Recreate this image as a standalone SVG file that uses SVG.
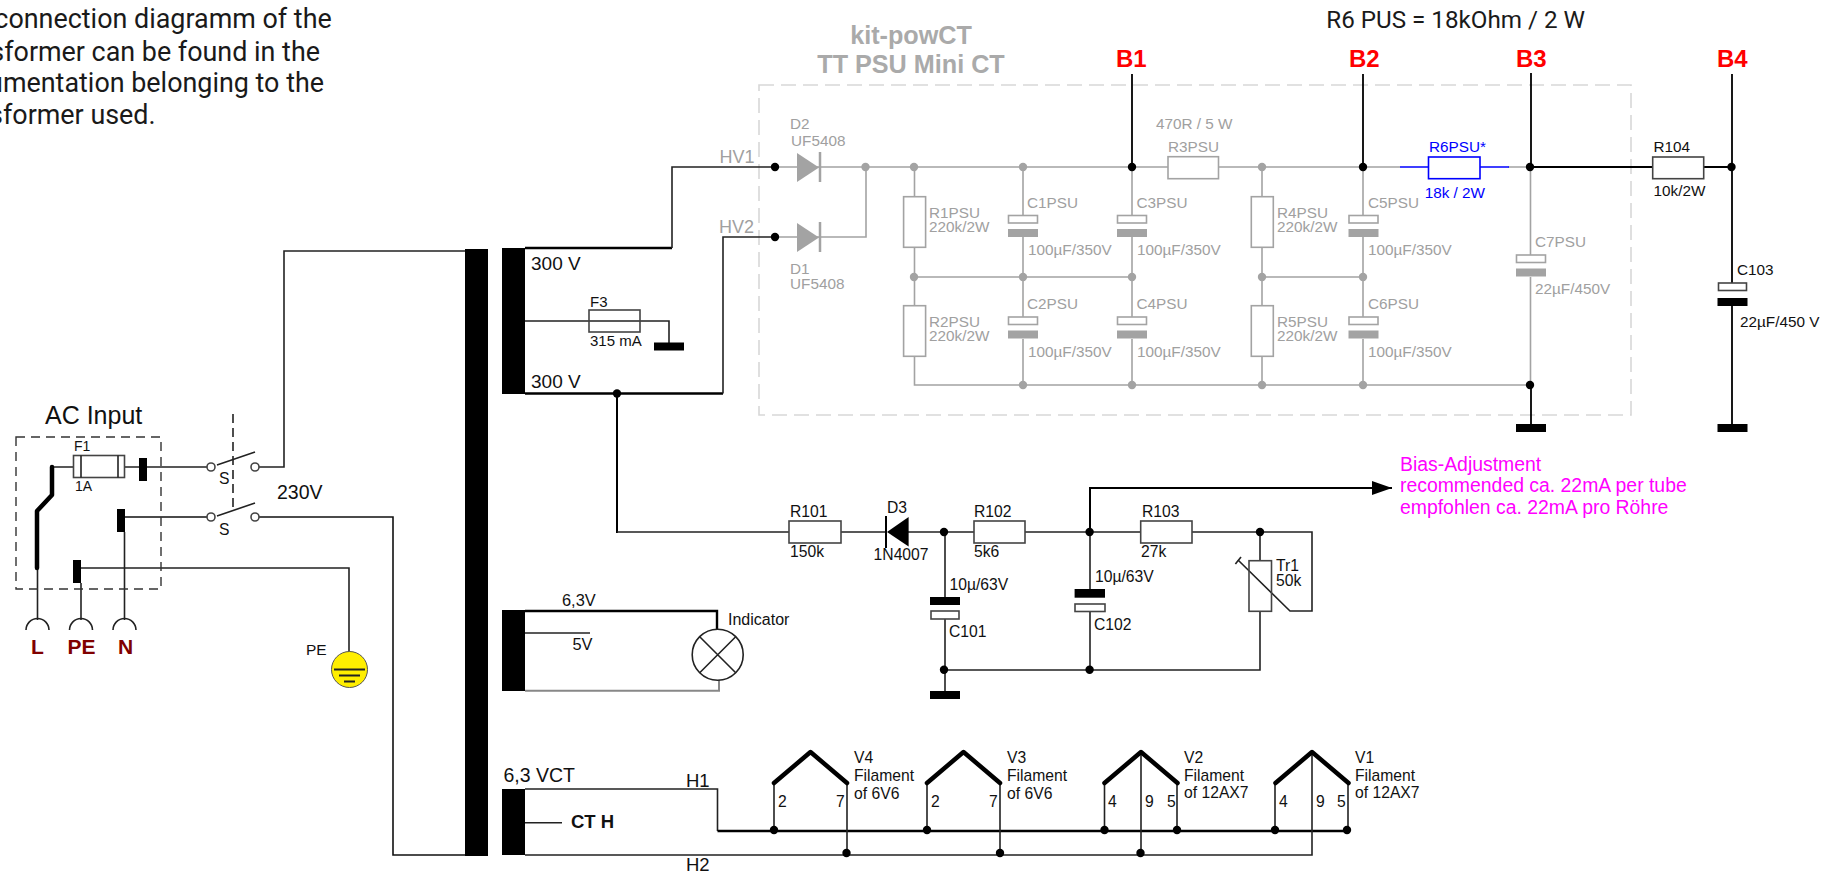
<svg xmlns="http://www.w3.org/2000/svg" width="1831" height="873" viewBox="0 0 1831 873">
<defs>
<style>
text{font-family:"Liberation Sans",Arial,sans-serif;font-size:15.3px;fill:#111}
.w{fill:none;stroke:#222;stroke-width:1.6}
.k{fill:none;stroke:#000;stroke-width:2.4}
.t{fill:none;stroke:#000;stroke-width:4.5;stroke-linecap:round;stroke-linejoin:round}
.g{fill:none;stroke:#a3a3a3;stroke-width:1.6}
.r{fill:#fff;stroke:#444;stroke-width:1.6}
.rg{fill:#fff;stroke:#a3a3a3;stroke-width:1.6}
.b{fill:#000}
.bg{fill:#a3a3a3}
.gt{fill:#a0a0a0}
.lab{font-size:15.7px}
.top{font-family:Roboto,sans-serif;font-size:26.9px;fill:#1a1a1a;text-anchor:end}
.bn{font-weight:bold;font-size:24px;fill:#ff0000}
.ac{font-weight:bold;font-size:21px;fill:#800000}
.m{font-size:19.4px;fill:#ff00ff}
.title{font-weight:bold;font-size:25.2px;fill:#aaaaaa;text-anchor:middle}
</style>
<circle id="dk" r="4.2" fill="#000"/>
<circle id="dg" r="4.2" fill="#a3a3a3"/>
<marker id="ah" markerUnits="userSpaceOnUse" markerWidth="20" markerHeight="16" refX="20" refY="8" orient="auto"><path d="M0 1L20 8L0 15Z" fill="#000"/></marker>
<g id="capg"><rect class="rg" x="-14.5" y="0" width="29" height="7.5"/><rect class="bg" x="-15" y="13.5" width="30" height="8"/></g>
<g id="cap"><rect class="r" x="-14" y="0" width="28" height="7.5"/><rect class="b" x="-15" y="15" width="30" height="8"/></g>
<g id="gnd"><rect class="b" x="-15" y="0" width="30" height="8"/></g>
<g id="fil"><path class="t" d="M-36.500 31L0 0L36.500 31" stroke-linecap="butt"/></g>
</defs>
<rect width="1831" height="873" fill="#fff"/>

<g id="note">
<text class="top" x="331.700" y="27.700">connection diagramm of the</text>
<text class="top" x="320" y="60.700">sformer can be found in the</text>
<text class="top" x="324" y="92">umentation belonging to the</text>
<text class="top" x="155.600" y="124">sformer used.</text>
</g>
<text id="r6note" class="top" x="1585" y="28" style="font-size:24.200px">R6 PUS = 18kOhm / 2 W</text>

<g id="psu-box">
<rect x="759" y="85" width="872" height="330" fill="none" stroke="#d8d8d8" stroke-width="1.6" stroke-dasharray="15 7"/>
<text class="title" x="911" y="44">kit-powCT</text>
<text class="title" x="911" y="73">TT PSU Mini CT</text>
</g>

<g id="connectors">
<path class="w" d="M139 467H211M259 467H284V251H465"/>
<path class="w" d="M124.500 517H211M259 517H393V855H465" style="stroke:#111"/>
<path class="w" d="M81 568H349V669"/>
<path class="w" d="M37.500 570V620M81 583V620M124.500 532V620"/>
<path class="w" d="M52 467H73.500M124.500 467H139"/>
<path class="t" d="M52 467V495L37 511V568"/>
<path class="w" d="M217 465L255 452M217 516L255 503"/>
<path class="w" d="M233 414V510" stroke-dasharray="9 5"/>
<path class="k" d="M525 248H672"/><path class="w" d="M672 248V167H775"/>
<path class="k" d="M525 393.500H723"/><path class="w" d="M723 393.500V237H775"/>
<path class="w" d="M525 321H669V343"/>
<path class="k" d="M617 393.500V533" style="stroke-width:2"/>
<path class="w" d="M617 532H789M841 532H887M908 532H974M1025 532H1141M1192 532H1312V611H1290L1238 560"/>
<path class="w" d="M1235.400 564L1241 557"/>
<path class="k" d="M1090 532V488H1392" marker-end="url(#ah)" style="stroke-width:2"/>
<path class="w" d="M945 532V597M945 619V692M1090 532V589M1090 612V670M1260 532V561M1260 611V670H945"/>
<path class="g" d="M775 167H1168M1218.500 167H1400M1508 167H1530M775 237H866V167"/>
<path class="g" d="M914.500 167V197M914.500 247V306M914.500 356V385H1530M914.500 277H1132M1023 167V215M1023 237V317M1023 339V385M1132 167V215M1132 237V317M1132 339V385"/>
<path class="g" d="M1262 167V197M1262 247V306M1262 356V385M1262 277H1363M1363 167V215M1363 237V317M1363 339V385M1530.500 167V255M1530.500 277V385"/>
<path d="M1400 167H1429M1480 167H1509" fill="none" stroke="#0000ff" stroke-width="1.600"/>
<path class="k" d="M1132 74V167M1363 74V167M1531 73V167" style="stroke-width:1.800"/>
<path class="k" d="M1530 167H1653M1703 167H1732M1732 74V283M1732 306V424M1531 385V424" style="stroke-width:1.800"/>
<path class="w" d="M525 633H590"/>
<path class="k" d="M525 611H717V629"/>
<path d="M525 690.700H719V680" fill="none" stroke="#888" stroke-width="2"/>
<path class="w" d="M525 789H717.500V831"/>
<path class="w" d="M525 822.700H562"/>
<path class="k" d="M717.500 831H1347"/>
<path class="w" d="M525 855H1312V752"/>
<path class="w" d="M774 782V830M847 782V853M927 782V830M1000 782V853M1104.500 782V830M1141 752V853M1177 782V830M1275 782V830M1348 782V830"/>
</g>

<g id="transformer">
<rect class="b" x="465" y="249" width="23" height="607"/>
<rect class="b" x="502" y="248" width="23" height="146"/>
<rect class="b" x="502" y="610" width="23" height="81"/>
<rect class="b" x="502" y="789" width="23" height="66"/>
<text x="531" y="270" style="font-size:19px">300 V</text>
<text x="531" y="388" style="font-size:19px">300 V</text>
<text x="562" y="606" style="font-size:16.400px">6,3V</text>
<text x="572.500" y="650" style="font-size:16.400px">5V</text>
<text x="503.500" y="782" style="font-size:19.500px">6,3 VCT</text>
<text x="571" y="828" style="font-size:18.500px;font-weight:bold">CT H</text>
<text x="686" y="787" style="font-size:18.500px">H1</text>
<text x="686" y="871" style="font-size:18.500px">H2</text>
<use href="#dk" x="617" y="393.500"/>
</g>

<g id="ac-input">
<text x="45" y="424" style="font-size:25px">AC Input</text>
<rect x="16" y="437" width="145" height="152" fill="none" stroke="#333" stroke-width="1.400" stroke-dasharray="9 6"/>
<rect class="r" x="73.500" y="455.500" width="51" height="22"/>
<path class="w" d="M81 455.500V477.500M118 455.500V477.500"/>
<text x="74" y="451" style="font-size:14px">F1</text>
<text x="75" y="491" style="font-size:14px">1A</text>
<rect class="b" x="139" y="458" width="8" height="23"/>
<rect class="b" x="117" y="509" width="8" height="23"/>
<rect class="b" x="73" y="560" width="8" height="23"/>
<path class="w" d="M26 630A11.500 11.500 0 0 1 49 630M69.500 630A11.500 11.500 0 0 1 92.500 630M113 630A11.500 11.500 0 0 1 136 630" stroke-width="1.600"/>
<text class="ac" x="31" y="654">L</text>
<text class="ac" x="67.500" y="654">PE</text>
<text class="ac" x="118" y="654">N</text>
</g>

<g id="switch">
<circle class="r" cx="211" cy="467" r="4"/><circle class="r" cx="255" cy="467" r="4"/>
<circle class="r" cx="211" cy="517" r="4"/><circle class="r" cx="255" cy="517" r="4"/>
<text x="219" y="484" class="lab">S</text>
<text x="219" y="535" class="lab">S</text>
<text x="277" y="498.500" style="font-size:19.500px">230V</text>
</g>

<g id="earth">
<circle cx="349.500" cy="669.500" r="18" fill="#ffee00" stroke="#555" stroke-width="1"/>
<path d="M334 669.500H365M339 675.500H360M344 681.500H355" fill="none" stroke="#222" stroke-width="2"/>
<text x="306" y="655" style="font-size:15.500px">PE</text>
</g>

<g id="F3">
<rect x="589" y="310" width="51" height="22" fill="none" stroke="#444" stroke-width="1.600"/>
<text x="590" y="307" style="font-size:15px">F3</text>
<text x="590" y="346" style="font-size:15px">315 mA</text>
<use href="#gnd" x="669" y="342.500"/>
</g>

<g id="D2" class="gt">
<path class="bg" d="M797 153L819 167.500L797 182Z"/><path d="M820 152V182" stroke="#a3a3a3" stroke-width="2.500"/>
<text class="gt" x="790" y="129">D2</text><text class="gt" x="791" y="146">UF5408</text>
<text class="gt" x="719.500" y="163" style="font-size:18px">HV1</text>
</g>
<g id="D1">
<path class="bg" d="M797 223L819 237.500L797 252Z"/><path d="M820 222V252" stroke="#a3a3a3" stroke-width="2.500"/>
<text class="gt" x="790" y="274">D1</text><text class="gt" x="790" y="289">UF5408</text>
<text class="gt" x="719" y="232.500" style="font-size:18px">HV2</text>
</g>

<g id="R1PSU"><rect class="rg" x="903.600" y="196.700" width="22" height="50.600"/><text class="gt" x="929" y="217.700">R1PSU</text><text class="gt" x="929" y="232">220k/2W</text></g>
<g id="R2PSU"><rect class="rg" x="903.600" y="305.700" width="22" height="50.600"/><text class="gt" x="929" y="326.700">R2PSU</text><text class="gt" x="929" y="341">220k/2W</text></g>
<g id="C1PSU"><use href="#capg" x="1023" y="215.500"/><text class="gt" x="1027" y="207.700">C1PSU</text><text class="gt" x="1028" y="255">100µF/350V</text></g>
<g id="C2PSU"><use href="#capg" x="1023" y="317"/><text class="gt" x="1027" y="309.300">C2PSU</text><text class="gt" x="1028" y="356.700">100µF/350V</text></g>
<g id="C3PSU"><use href="#capg" x="1132" y="215.500"/><text class="gt" x="1136.500" y="207.700">C3PSU</text><text class="gt" x="1137" y="255">100µF/350V</text></g>
<g id="C4PSU"><use href="#capg" x="1132" y="317"/><text class="gt" x="1136.500" y="309.300">C4PSU</text><text class="gt" x="1137" y="356.700">100µF/350V</text></g>
<g id="R3PSU"><rect class="rg" x="1168" y="156.700" width="50.500" height="22"/><text class="gt" x="1156" y="129">470R / 5 W</text><text class="gt" x="1168" y="152">R3PSU</text></g>
<g id="R4PSU"><rect class="rg" x="1251.300" y="196.700" width="22" height="50.600"/><text class="gt" x="1277" y="217.700">R4PSU</text><text class="gt" x="1277" y="232">220k/2W</text></g>
<g id="R5PSU"><rect class="rg" x="1251.300" y="305.700" width="22" height="50.600"/><text class="gt" x="1277" y="326.700">R5PSU</text><text class="gt" x="1277" y="341">220k/2W</text></g>
<g id="C5PSU"><use href="#capg" x="1363.500" y="215.500"/><text class="gt" x="1368" y="207.700">C5PSU</text><text class="gt" x="1368" y="255">100µF/350V</text></g>
<g id="C6PSU"><use href="#capg" x="1363.500" y="317"/><text class="gt" x="1368" y="309.300">C6PSU</text><text class="gt" x="1368" y="356.700">100µF/350V</text></g>
<g id="R6PSU"><rect x="1428.500" y="157" width="51.500" height="21.700" fill="#fff" stroke="#0000ff" stroke-width="1.600"/><text x="1429" y="152" style="fill:#0000ff">R6PSU*</text><text x="1424.700" y="198" style="fill:#0000ff">18k / 2W</text></g>
<g id="C7PSU"><use href="#capg" x="1531" y="255"/><text class="gt" x="1535" y="246.700">C7PSU</text><text class="gt" x="1535" y="294">22µF/450V</text></g>
<g id="R104"><rect class="r" x="1652.700" y="157" width="51" height="21.700"/><text x="1653.500" y="152">R104</text><text x="1653.500" y="196">10k/2W</text></g>
<g id="C103"><use href="#cap" x="1732.500" y="283"/><text x="1737" y="275">C103</text><text x="1740" y="326.700">22µF/450 V</text></g>
<g id="grounds"><use href="#gnd" x="1531" y="424"/><use href="#gnd" x="1732.500" y="424"/><use href="#gnd" x="945" y="691"/></g>
<g id="bus-labels"><text class="bn" x="1116" y="67">B1</text><text class="bn" x="1349" y="67">B2</text><text class="bn" x="1516" y="67">B3</text><text class="bn" x="1717" y="67">B4</text></g>

<g id="dots-grey">
<use href="#dg" x="865.500" y="167"/><use href="#dg" x="914" y="167"/><use href="#dg" x="1023" y="167"/><use href="#dg" x="1262" y="167"/>
<use href="#dg" x="914" y="277"/><use href="#dg" x="1023" y="277"/><use href="#dg" x="1132" y="277"/><use href="#dg" x="1262" y="277"/><use href="#dg" x="1363" y="277"/>
<use href="#dg" x="1023" y="385"/><use href="#dg" x="1132" y="385"/><use href="#dg" x="1262" y="385"/><use href="#dg" x="1363" y="385"/>
</g>
<g id="dots-black">
<use href="#dk" x="775" y="167"/><use href="#dk" x="775" y="237"/><use href="#dk" x="1132" y="167"/><use href="#dk" x="1363" y="167"/><use href="#dk" x="1530" y="167"/><use href="#dk" x="1731.500" y="167"/><use href="#dk" x="1530" y="385"/>
<use href="#dk" x="944" y="532"/><use href="#dk" x="1089.600" y="532"/><use href="#dk" x="1260" y="532"/><use href="#dk" x="944" y="669.700"/><use href="#dk" x="1089.600" y="669.700"/>
<use href="#dk" x="774" y="830"/><use href="#dk" x="927" y="830"/><use href="#dk" x="1104.500" y="830"/><use href="#dk" x="1177" y="830"/><use href="#dk" x="1275" y="830"/><use href="#dk" x="1347" y="830"/>
<use href="#dk" x="846.500" y="853"/><use href="#dk" x="1000" y="853"/><use href="#dk" x="1140.500" y="853"/>
</g>

<g id="R101"><rect class="r" x="789" y="521" width="52" height="22"/><text class="lab" x="790" y="516.700">R101</text><text class="lab" x="790" y="556.700">150k</text></g>
<g id="D3"><path class="b" d="M887 532L908.600 517V546.500Z"/><path d="M886 516V548" stroke="#000" stroke-width="2"/><text class="lab" x="887" y="512.700">D3</text><text class="lab" x="873.600" y="560">1N4007</text></g>
<g id="R102"><rect class="r" x="974" y="521" width="51" height="22"/><text class="lab" x="974" y="516.700">R102</text><text class="lab" x="974" y="556.700">5k6</text></g>
<g id="R103"><rect class="r" x="1140.700" y="521" width="51.300" height="22"/><text class="lab" x="1142" y="516.700">R103</text><text class="lab" x="1141" y="556.700">27k</text></g>
<g id="Tr1"><rect x="1249" y="560.700" width="22.500" height="50.600" fill="none" stroke="#444" stroke-width="1.600"/><text class="lab" x="1276" y="570.700">Tr1</text><text class="lab" x="1276" y="586">50k</text></g>
<g id="C101"><rect class="b" x="930" y="597" width="30" height="8"/><rect class="r" x="931" y="611" width="28" height="8"/><text class="lab" x="949.500" y="589.700">10µ/63V</text><text class="lab" x="949" y="637">C101</text></g>
<g id="C102"><rect class="b" x="1074.600" y="589" width="30.400" height="8.700"/><rect class="r" x="1075" y="604" width="30" height="7.500"/><text class="lab" x="1095" y="582">10µ/63V</text><text class="lab" x="1094" y="630">C102</text></g>
<g id="bias"><text class="m" x="1400" y="471">Bias-Adjustment</text><text class="m" x="1400" y="492.300">recommended ca. 22mA per tube</text><text class="m" x="1400" y="514">empfohlen ca. 22mA pro Röhre</text></g>

<g id="indicator"><circle cx="717.700" cy="654.700" r="25.500" fill="none" stroke="#222" stroke-width="1.600"/><path class="w" d="M699.700 636.700L735.700 672.700M735.700 636.700L699.700 672.700"/><text x="728" y="625" style="font-size:16px">Indicator</text></g>

<g id="V4"><use href="#fil" x="810.500" y="752"/><text class="lab" x="778" y="807">2</text><text class="lab" x="836" y="807">7</text><text class="lab" x="854" y="763">V4</text><text class="lab" x="854" y="781">Filament</text><text class="lab" x="854" y="799">of 6V6</text></g>
<g id="V3"><use href="#fil" x="963.500" y="752"/><text class="lab" x="931" y="807">2</text><text class="lab" x="989" y="807">7</text><text class="lab" x="1007" y="763">V3</text><text class="lab" x="1007" y="781">Filament</text><text class="lab" x="1007" y="799">of 6V6</text></g>
<g id="V2"><use href="#fil" x="1141" y="752"/><text class="lab" x="1108" y="807">4</text><text class="lab" x="1145" y="807">9</text><text class="lab" x="1167" y="807">5</text><text class="lab" x="1184" y="763">V2</text><text class="lab" x="1184" y="781">Filament</text><text class="lab" x="1184" y="798">of 12AX7</text></g>
<g id="V1"><use href="#fil" x="1312" y="752"/><text class="lab" x="1279" y="807">4</text><text class="lab" x="1316" y="807">9</text><text class="lab" x="1337" y="807">5</text><text class="lab" x="1355" y="763">V1</text><text class="lab" x="1355" y="781">Filament</text><text class="lab" x="1355" y="798">of 12AX7</text></g>
</svg>
